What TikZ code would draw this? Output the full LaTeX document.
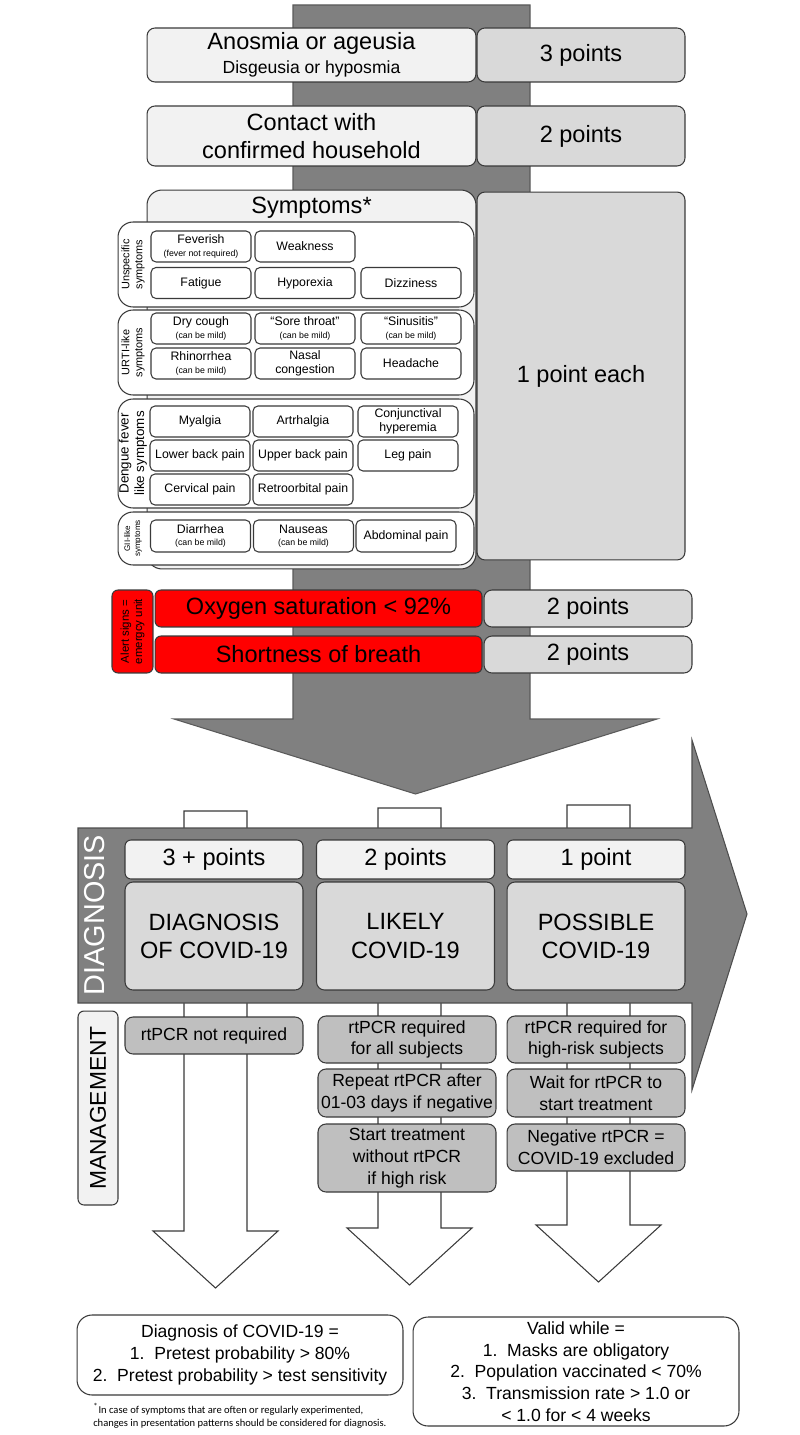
\documentclass[tikz,border=0pt]{standalone}
\usepackage{fontspec}
\setmainfont{Liberation Sans}
\newfontfamily\notefont{Carlito}
\definecolor{bandgray}{HTML}{808080}
\definecolor{linegray}{HTML}{3A3A3A}
\definecolor{lightfill}{HTML}{F2F2F2}
\definecolor{ptsfill}{HTML}{D9D9D9}
\definecolor{mgmtfill}{HTML}{BFBFBF}
\definecolor{alertred}{HTML}{FF0000}
\newcommand\bigtxt{\fontsize{13.4}{16}\selectfont}
\newcommand\midtxt{\fontsize{10}{12.4}\selectfont}
\newcommand\symtxt{\fontsize{7}{8}\selectfont}
\newcommand\subtxt{\fontsize{5}{6}\selectfont}

\begin{document}
\begin{tikzpicture}[x=0.02cm, y=-0.02cm, line width=0.6pt,
 every node/.style={font=\bigtxt, inner sep=1pt},
 lbox/.style={draw=linegray, fill=lightfill, rounded corners=1.6mm, align=center, minimum width=65.8mm, minimum height=#1},
 pbox/.style={draw=linegray, fill=ptsfill, rounded corners=1.6mm, align=center, minimum width=41.6mm, minimum height=#1},
 grp/.style={draw=linegray, fill=white, rounded corners=3mm, minimum width=71.2mm, minimum height=#1},
 glabel/.style={rotate=90, align=center, font=\fontsize{6.2}{7.4}\selectfont},
 sym/.style={draw=linegray, fill=white, rounded corners=1mm, align=center, minimum width=20mm, minimum height=6.2mm, inner sep=0.5pt, font=\symtxt},
 rbox/.style={draw=linegray, fill=alertred, rounded corners=1.2mm, align=center, minimum width=65.4mm, minimum height=7.4mm},
 head/.style={draw=linegray, fill=lightfill, rounded corners=1.2mm, minimum width=35.6mm, minimum height=7.8mm},
 dbox/.style={draw=linegray, fill=ptsfill, rounded corners=1.6mm, align=center, minimum width=35.6mm, minimum height=21.6mm},
 mbox/.style={draw=linegray, fill=mgmtfill, rounded corners=1.6mm, align=center, minimum width=35.6mm, minimum height=#1, font=\midtxt},
 sidebox/.style={draw=linegray, rotate=90, rounded corners=1.2mm, align=center},
 endbox/.style={draw=linegray, fill=white, rounded corners=3mm, align=center, minimum width=65.2mm, minimum height=#1, font=\midtxt}]
\useasboundingbox (0,0) rectangle (800,1435);

% score arrow
\draw[fill=bandgray, draw=bandgray!70!black] (293,5) -- (530,5) -- (530,719) -- (657,719) -- (415.5,794) -- (174,719) -- (293,719) -- cycle;

\node[lbox=10.8mm] (anosmia) at (311.5,55) {Anosmia or ageusia\\[-2.5pt]{\midtxt Disgeusia or hyposmia}};
\node[pbox=10.8mm] (p3) at (581,55) {3 points};
\node[lbox=12mm] (contact) at (311.5,136) {Contact with\\confirmed household};
\node[pbox=12mm] (p2) at (581,136) {2 points};

% symptoms
\node[lbox=75.8mm, rounded corners=3mm] (sympbox) at (311.5,379.5) {};
\node (symptitle) at (311.5,208) {Symptoms*};
\node[pbox=73.6mm] (p1) at (581,376) {1 point each};

\node[grp=17mm] (unspec) at (296,264.5) {};
\node[glabel] (unspeclab) at (133,264.5) {Unspecific\\symptoms};
\node[sym] (feverish) at (201,246.5) {Feverish\\[-1pt]{\subtxt (fever not required)}};
\node[sym] (weakness) at (305,246.5) {Weakness};
\node[sym] (fatigue) at (201,283) {Fatigue};
\node[sym] (hyporexia) at (305,283) {Hyporexia};
\node[sym] (dizziness) at (411,283) {Dizziness};

\node[grp=17mm] (urti) at (296,352.5) {};
\node[glabel] (urtilab) at (133,352.5) {URTI-like\\symptoms};
\node[sym] (drycough) at (201,328.5) {Dry cough\\[-1pt]{\subtxt (can be mild)}};
\node[sym] (throat) at (305,328.5) {``Sore throat''\\[-1pt]{\subtxt (can be mild)}};
\node[sym] (sinus) at (411,328.5) {``Sinusitis''\\[-1pt]{\subtxt (can be mild)}};
\node[sym] (rhino) at (201,363.5) {Rhinorrhea\\[-1pt]{\subtxt (can be mild)}};
\node[sym] (nasal) at (305,363.5) {Nasal\\congestion};
\node[sym] (headache) at (411,363.5) {Headache};

\node[grp=21.8mm] (dengue) at (296,453.5) {};
\node[glabel, font=\fontsize{7.6}{8.8}\selectfont] (denguelab) at (133,453.5) {Dengue fever\\like symptoms};
\node[sym] (myalgia) at (200,421.5) {Myalgia};
\node[sym] (artr) at (303,421.5) {Artrhalgia};
\node[sym] (conj) at (408,421.5) {Conjunctival\\hyperemia};
\node[sym] (lowback) at (200,455.5) {Lower back pain};
\node[sym] (upback) at (303,455.5) {Upper back pain};
\node[sym] (leg) at (408,455.5) {Leg pain};
\node[sym] (cervical) at (200,489.5) {Cervical pain};
\node[sym] (retro) at (303,489.5) {Retroorbital pain};

\node[grp=10.6mm] (gi) at (296,538.5) {};
\node[glabel, font=\fontsize{4.6}{5.6}\selectfont] (gilab) at (133,538.5) {GII-like\\symptoms};
\node[sym, minimum height=6.4mm] (diarrhea) at (200.5,536) {Diarrhea\\[-1pt]{\subtxt (can be mild)}};
\node[sym, minimum height=6.4mm] (nauseas) at (303.5,536) {Nauseas\\[-1pt]{\subtxt (can be mild)}};
\node[sym, minimum height=6.4mm] (abdominal) at (406,536) {Abdominal pain};

% alert signs
\node[sidebox, fill=alertred, minimum width=16.6mm, minimum height=8.2mm, font=\fontsize{6.5}{7.6}\selectfont] (alert) at (132.5,631.5) {Alert signs =\\emergcy unit};
\node[rbox] (oxygen) at (318.5,608.5) {Oxygen saturation < 92\%};
\node[pbox=7.4mm] (poxy) at (588,608.5) {2 points};
\node[rbox] (breath) at (318.5,654.5) {Shortness of breath};
\node[pbox=7.4mm] (pbreath) at (588,654.5) {2 points};

% result arrows
\foreach \cx/\ty in {215.5/811,409.5/808,598.5/805}
  \draw[draw=linegray, fill=white] (\cx-31.5,\ty) -- (\cx+31.5,\ty) -- (\cx+31.5,\ty+420) -- (\cx+62.5,\ty+420)
    -- (\cx,\ty+477) -- (\cx-62.5,\ty+420) -- (\cx-31.5,\ty+420) -- cycle;

% diagnosis band
\draw[fill=bandgray, draw=bandgray!60!black] (78,828) -- (692,828) -- (692,740) -- (747,914) -- (692,1090) -- (692,1003) -- (78,1003) -- cycle;
\node[rotate=90, text=white, font=\fontsize{16.4}{18}\selectfont] (diaglab) at (95,915) {DIAGNOSIS};

\node[head] (h3) at (214,859.5) {3 + points};
\node[head] (h2) at (405.5,859.5) {2 points};
\node[head] (h1) at (596,859.5) {1 point};
\node[dbox] (d3) at (214,936) {DIAGNOSIS\\OF COVID-19};
\node[dbox] (d2) at (405.5,936) {LIKELY\\COVID-19};
\node[dbox] (d1) at (596,936) {POSSIBLE\\COVID-19};

% management
\node[sidebox, fill=lightfill, minimum width=38.8mm, minimum height=8mm, font=\fontsize{13}{15}\selectfont] (mng) at (98,1108) {MANAGEMENT};
\node[mbox=7.4mm] (m3) at (214,1035.5) {rtPCR not required};
\node[mbox=9.4mm] (m2a) at (407,1039.5) {rtPCR required\\for all subjects};
\node[mbox=9.6mm] (m2b) at (407,1093) {Repeat rtPCR after\\01-03 days if negative};
\node[mbox=13.6mm] (m2c) at (407,1158) {Start treatment\\without rtPCR\\if high risk};
\node[mbox=9.4mm] (m1a) at (596,1039.5) {rtPCR required for\\high-risk subjects};
\node[mbox=9.6mm] (m1b) at (596,1093) {Wait for rtPCR to\\start treatment};
\node[mbox=9.4mm] (m1c) at (596,1147.5) {Negative rtPCR =\\COVID-19 excluded};

% conclusions
\node[endbox=16mm] (defn) at (240,1355) {Diagnosis of COVID-19 =\\1.\ \ Pretest probability > 80\%\\2.\ \ Pretest probability > test sensitivity};
\node[endbox=21.8mm] (valid) at (576,1371.5) {Valid while =\\1.\ \ Masks are obligatory\\2.\ \ Population vaccinated < 70\%\\3.\ \ Transmission rate > 1.0 or\\< 1.0 for < 4 weeks};
\node[anchor=north west, align=left, font=\notefont\fontsize{6}{7.4}\selectfont] (note) at (91,1401) {\textsuperscript{*}In case of symptoms that are often or regularly experimented,\\changes in presentation patterns should be considered for diagnosis.};
\end{tikzpicture}
\end{document}
